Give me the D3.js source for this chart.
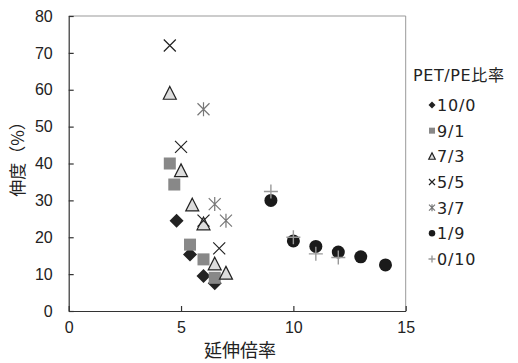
<!DOCTYPE html>
<html><head><meta charset="utf-8">
<script src="https://cdn.jsdelivr.net/npm/d3@7"></script>
<style>body{margin:0;background:#fff}</style>
</head><body>
<svg id="c" width="518" height="363"></svg>
<script>
const seriesNames = ["10/0","9/1","7/3","5/5","3/7","1/9","0/10"];
const s10_0 = [[4.8,24.5],[5.4,15.3],[6.0,9.5],[6.5,7.5]];
const s9_1  = [[4.5,40],[4.7,34.3],[5.4,18],[6.0,14],[6.5,9]];
const s7_3  = [[4.5,59],[5.0,38],[5.5,28.7],[6.0,23.6],[6.5,12.7],[7.0,10.2]];
const s5_5  = [[4.5,72],[5.0,44.5],[6.0,24.5],[6.7,17]];
const s3_7  = [[6.0,54.7],[6.5,29],[7.0,24.5]];
const s1_9  = [[9,30],[10,19],[11,17.5],[12,16],[13,14.7],[14.1,12.5]];
const s0_10 = [[9,32.4],[10,20],[11,15.5],[12,14.5]];
const xTicks = [0,5,10,15];
const yTicks = [0,10,20,30,40,50,60,70,80];
const xTitle = "延伸倍率", yTitle = "伸度（%）", legendTitle = "PET/PE比率";

const allSeries = [s10_0,s9_1,s7_3,s5_5,s3_7,s1_9,s0_10];
const svg = d3.select("#c");
const L=68.7, R=405.7, T=16, B=311;
const x = d3.scaleLinear().domain([0,15]).range([L,R]);
const y = d3.scaleLinear().domain([0,80]).range([B,T]);
const font = "'Liberation Sans', 'Noto Sans CJK JP', sans-serif";
const lfont = "'DejaVu Sans', 'Noto Sans CJK JP', sans-serif";
const cjk = "'Noto Sans CJK JP', sans-serif";

// frame
svg.append("line").attr("x1",L).attr("x2",R).attr("y1",T).attr("y2",T).attr("stroke","#999").attr("stroke-width",1);
svg.append("line").attr("x1",R).attr("x2",R).attr("y1",T).attr("y2",B).attr("stroke","#999").attr("stroke-width",1);

const gx = svg.append("g").attr("transform",`translate(0,${B})`)
  .call(d3.axisBottom(x).tickValues(xTicks).tickSizeInner(-5).tickSizeOuter(0).tickPadding(11));
const gy = svg.append("g").attr("transform",`translate(${L},0)`)
  .call(d3.axisLeft(y).tickValues(yTicks).tickSizeInner(-5).tickSizeOuter(0).tickPadding(16));
[gx,gy].forEach(g=>{
  g.selectAll("path,line").attr("stroke","#333").attr("stroke-width",1.2);
  g.selectAll("text").attr("font-family",font).attr("font-size",16).attr("fill","#222");
});

svg.append("text").attr("x",240).attr("y",357).attr("text-anchor","middle")
  .attr("font-family",cjk).attr("font-size",18).attr("fill","#222").text(xTitle);
svg.append("text").attr("transform","translate(24,155) rotate(-90)").attr("text-anchor","middle")
  .attr("font-family",cjk).attr("font-size",17).attr("fill","#222").text(yTitle);

function marker(g, i, s){
  const k = s;
  switch(i){
    case 0: g.append("path").attr("d",`M0,${-7*k}L${7*k},0L0,${7*k}L${-7*k},0Z`).attr("fill","#222"); break;
    case 1: g.append("rect").attr("x",-6*k).attr("y",-6*k).attr("width",12*k).attr("height",12*k).attr("fill","#888"); break;
    case 2: g.append("path").attr("d",`M0,${-7*k}L${6.5*k},${5.8*k}L${-6.5*k},${5.8*k}Z`).attr("fill","#ddd").attr("stroke","#222").attr("stroke-width",1.2); break;
    case 3: g.append("path").attr("d",`M${-6*k},${-6*k}L${6*k},${6*k}M${6*k},${-6*k}L${-6*k},${6*k}`).attr("stroke","#222").attr("stroke-width",1.2).attr("fill","none"); break;
    case 4: g.append("path").attr("d",`M${-6*k},${-6*k}L${6*k},${6*k}M${6*k},${-6*k}L${-6*k},${6*k}M0,${-7*k}L0,${7*k}`).attr("stroke","#777").attr("stroke-width",1.2).attr("fill","none"); break;
    case 5: g.append("circle").attr("r",6.5*k).attr("fill","#1a1a1a"); break;
    case 6: g.append("path").attr("d",`M${-7*k},0L${7*k},0M0,${-7*k}L0,${7*k}`).attr("stroke","#999").attr("stroke-width",1.4).attr("fill","none"); break;
  }
}

allSeries.forEach((data,i)=>{
  const g = svg.append("g");
  g.selectAll("g").data(data).join("g")
    .attr("transform",d=>`translate(${x(d[0])},${y(d[1])})`)
    .each(function(){ marker(d3.select(this), i, 1); });
});

// legend
svg.append("text").attr("x",413).attr("y",81).attr("font-family",lfont).attr("font-size",16)
  .attr("letter-spacing",0.6).attr("fill","#222").text(legendTitle);
const legY = d3.scalePoint().domain(seriesNames).range([105,259]);
seriesNames.forEach((n,i)=>{
  const g = svg.append("g").attr("transform",`translate(432,${legY(n)})`);
  marker(g,i,0.5);
  g.append("text").attr("x",5).attr("y",6).attr("font-family",lfont).attr("font-size",16)
    .attr("letter-spacing",0.8).attr("fill","#222").text(n);
});
</script>
</body></html>
